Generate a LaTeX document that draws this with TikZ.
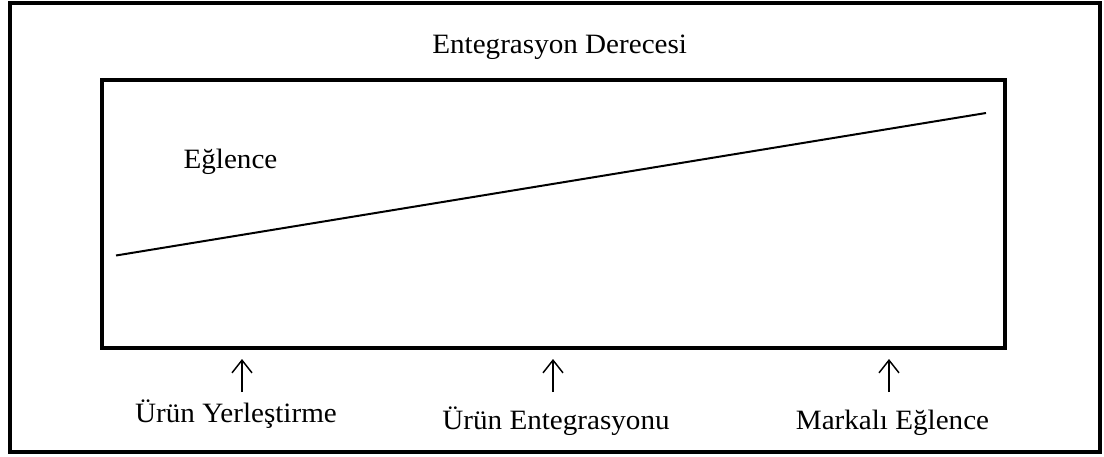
\documentclass[tikz,border=0pt]{standalone}
\usepackage{fontspec}
\setmainfont{Liberation Serif}
\usetikzlibrary{arrows.meta}
\newcommand{\lbl}[1]{\scalebox{1.04}[1]{#1}}
\begin{document}
\begin{tikzpicture}[x=0.75pt,y=-0.75pt,
  txt/.style={inner sep=0pt,anchor=base,font=\fontsize{21}{24}\selectfont},
  frame/.style={line width=3pt},
  inner/.style={line width=3.4pt},
  up/.style={line width=1.1pt,-{Straight Barb[length=9.5pt,width=15pt,line width=1.1pt]}}]
\useasboundingbox (0,0) rectangle (1104,457);
\draw[frame] (10,3) rectangle (1100,452);
\node[draw,inner,minimum width=903*0.75pt,minimum height=268*0.75pt,inner sep=0pt] (box) at (553.5,214) {};
\node[txt] (title) at (559.7,53) {\lbl{Entegrasyon Derecesi}};
\node[txt] (fun) at (230.5,168) {\lbl{Eğlence}};
\coordinate (l1) at (116,255.5);
\coordinate (l2) at (986,113);
\draw[line width=1.5pt] (l1) -- (l2);
\node[txt] (pp) at (236,422) {\lbl{Ürün Yerleştirme}};
\node[txt] (pi) at (556,429) {\lbl{Ürün Entegrasyonu}};
\node[txt] (be) at (892.5,429) {\lbl{Markalı Eğlence}};
\coordinate (a1s) at (242,392); \coordinate (a1e) at (242,359);
\coordinate (a2s) at (553,392); \coordinate (a2e) at (553,359);
\coordinate (a3s) at (889,392); \coordinate (a3e) at (889,359);
\draw[up] (a1s) -- (a1e);
\draw[up] (a2s) -- (a2e);
\draw[up] (a3s) -- (a3e);
\end{tikzpicture}
\end{document}
